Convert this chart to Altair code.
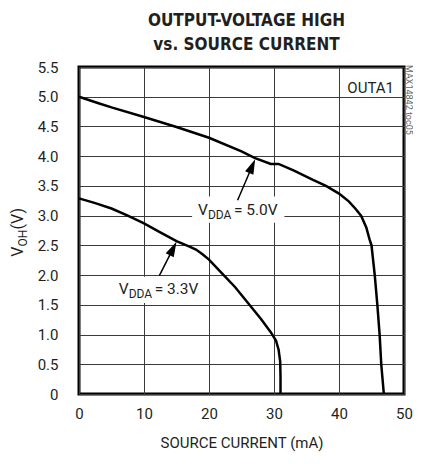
import altair as alt
import pandas as pd
import math

# ---- data ----
x_hi = [0, 3, 5, 10, 15, 20, 25, 27, 29.5, 30.7, 33, 36, 38, 40, 41.5, 42.5, 43.4, 44.2, 44.7, 45.0, 45.5, 45.9, 46.25, 46.5, 46.9]
y_hi = [5.0, 4.89, 4.82, 4.66, 4.49, 4.31, 4.08, 3.97, 3.87, 3.87, 3.76, 3.60, 3.50, 3.37, 3.24, 3.12, 3.0, 2.80, 2.6, 2.5, 2.0, 1.5, 1.0, 0.5, 0.0]
x_lo = [0, 2.5, 5, 7.5, 10, 12.5, 15, 17, 18, 19, 20, 22, 24, 26, 28, 29.5, 30.3, 30.7, 30.95, 31.0, 31.0]
y_lo = [3.29, 3.21, 3.12, 3.00, 2.87, 2.72, 2.57, 2.48, 2.43, 2.35, 2.26, 2.03, 1.80, 1.53, 1.26, 1.04, 0.90, 0.75, 0.55, 0.3, 0.0]

x_ticks = [0, 10, 20, 30, 40, 50]
y_ticks = [0, 0.5, 1.0, 1.5, 2.0, 2.5, 3.0, 3.5, 4.0, 4.5, 5.0, 5.5]

title_lines = ["OUTPUT-VOLTAGE HIGH", "vs. SOURCE CURRENT"]
x_title = "SOURCE CURRENT (mA)"

# annotation anchors (data coords)
lab_x = [18.3, 6.1]
lab_y = [3.015, 1.69]
lab_val = ["5.0V", "3.3V"]
box_x = [17.4, 5.1]
box_x2 = [31.6, 18.6]
box_y = [3.32, 1.97]
box_y2 = [2.88, 1.53]
tail_x = [24.4, 12.36]
tail_y = [3.26, 1.99]
tip_x = [27.1, 15.0]
tip_y = [3.95, 2.56]

W, H = 325, 327
XMAX, YMAX = 50, 5.5
FONT = "Roboto"
TFONT = "DejaVu Sans Condensed"
TXT = "#231f20"

curves = pd.DataFrame({
    "x": x_hi + x_lo,
    "y": y_hi + y_lo,
    "s": ["5.0"] * len(x_hi) + ["3.3"] * len(x_lo),
    "o": list(range(len(x_hi))) + list(range(len(x_lo))),
})

xs = alt.Scale(domain=[0, XMAX], nice=False)
ys = alt.Scale(domain=[0, YMAX], nice=False)
ax_x = alt.Axis(values=x_ticks, title=x_title, grid=True, ticks=False, domain=False,
                labelFlush=False, labelPadding=12, labelFontSize=15, titleFontSize=15,
                titleFontWeight="normal", titlePadding=14)
ax_y = alt.Axis(values=y_ticks, title=None, grid=True, ticks=False, domain=False,
                labelPadding=21, labelFontSize=15, labelOverlap=False,
                labelExpr="datum.value == 0 ? '0' : format(datum.value, '.1f')")


def X(f):
    return alt.X(f, scale=xs, axis=ax_x)


def Y(f):
    return alt.Y(f, scale=ys, axis=ax_y)


base = alt.Chart(curves).mark_line(color="black", strokeWidth=2.5).encode(
    x=X("x:Q"), y=Y("y:Q"), detail="s:N", order="o:Q")

ann = pd.DataFrame({"lx": lab_x, "ly": lab_y, "val": lab_val,
                    "bx": box_x, "bx2": box_x2, "by": box_y, "by2": box_y2,
                    "tx": tail_x, "ty": tail_y, "hx": tip_x, "hy": tip_y})

px_x = W / XMAX
px_y = H / YMAX
HEAD = 15.0
cx, cy, ang, ex, ey = [], [], [], [], []
for a, b, c, d in zip(tail_x, tail_y, tip_x, tip_y):
    dxp = (c - a) * px_x
    dyp = (d - b) * px_y
    L = math.hypot(dxp, dyp)
    ux, uy = dxp / L, dyp / L
    cx.append(c - ux * HEAD / 2 / px_x)
    cy.append(d - uy * HEAD / 2 / px_y)
    ex.append(c - ux * HEAD * 0.6 / px_x)
    ey.append(d - uy * HEAD * 0.6 / px_y)
    ang.append(math.degrees(math.atan2(dxp, dyp)))
ann["cx"] = cx
ann["cy"] = cy
ann["ang"] = ang
ann["ex"] = ex
ann["ey"] = ey

boxes = alt.Chart(ann).mark_rect(color="white").encode(
    x=X("bx:Q"), x2="bx2", y=Y("by:Q"), y2="by2")

shaft = alt.Chart(ann).mark_rule(color="black", strokeWidth=1.5).encode(
    x=X("tx:Q"), y=Y("ty:Q"), x2="ex", y2="ey")

heads = alt.Chart(ann).mark_point(
    shape="M0,-1L0.6,1L-0.6,1Z", size=HEAD * HEAD, filled=True, color="black", opacity=1
).encode(x=X("cx:Q"), y=Y("cy:Q"), angle=alt.Angle("ang:Q", scale=None))

t_v = alt.Chart(ann).mark_text(align="left", baseline="alphabetic", fontSize=15.5, font=FONT, color=TXT).encode(
    x=X("lx:Q"), y=Y("ly:Q"), text=alt.value("V"))
t_sub = alt.Chart(ann).mark_text(align="left", baseline="alphabetic", fontSize=12, font=FONT, color=TXT, dx=10, dy=4).encode(
    x=X("lx:Q"), y=Y("ly:Q"), text=alt.value("DDA"))
t_rest = alt.Chart(ann).transform_calculate(rest="' = ' + datum.val").mark_text(
    align="left", baseline="alphabetic", fontSize=15.5, font=FONT, color=TXT, dx=36).encode(
    x=X("lx:Q"), y=Y("ly:Q"), text=alt.Text("rest:N"))

one = pd.DataFrame({"t": ["OUTA1"]})
outa = alt.Chart(one).mark_text(
    align="right", baseline="alphabetic", fontSize=15, font=FONT, color=TXT
).encode(x=alt.value(W - 10), y=alt.value(26), text="t:N")

cyt = H / 2
yt1 = alt.Chart(one).mark_text(align="left", baseline="alphabetic", angle=270, fontSize=16, font=FONT, color=TXT).encode(
    x=alt.value(-56), y=alt.value(cyt + 26.3), text=alt.value("V"))
yt2 = alt.Chart(one).mark_text(align="left", baseline="alphabetic", angle=270, fontSize=12, font=FONT, color=TXT).encode(
    x=alt.value(-52.5), y=alt.value(cyt + 15.9), text=alt.value("OH"))
yt3 = alt.Chart(one).mark_text(align="left", baseline="alphabetic", angle=270, fontSize=16, font=FONT, color=TXT).encode(
    x=alt.value(-56), y=alt.value(cyt - 0.9), text=alt.value(" (V)"))

wm = alt.Chart(one).mark_text(align="left", baseline="alphabetic", angle=90, fontSize=9,
                              font=FONT, color="#666").encode(
    x=alt.value(W + 2), y=alt.value(-2), text=alt.value("MAX14842 toc05"))

chart = alt.layer(base, boxes, shaft, heads, t_v, t_sub, t_rest, outa, yt1, yt2, yt3, wm).properties(
    width=W, height=H,
    padding={"left": 71, "top": 59, "right": 9, "bottom": 59},
    autosize=alt.AutoSizeParams(type="none"),
    title=alt.TitleParams(text=title_lines, fontSize=17, font=TFONT, fontWeight="bold",
                          anchor="middle", offset=6, lineHeight=24, color=TXT, dx=5),
).configure_view(stroke="black", strokeWidth=3).configure_axis(
    gridColor="#3a3a3a", gridWidth=1, gridOpacity=1, labelFont=FONT, titleFont=FONT,
    labelColor=TXT, titleColor=TXT,
)

chart.save("out.html", embed_options={"renderer": "svg", "actions": False})
